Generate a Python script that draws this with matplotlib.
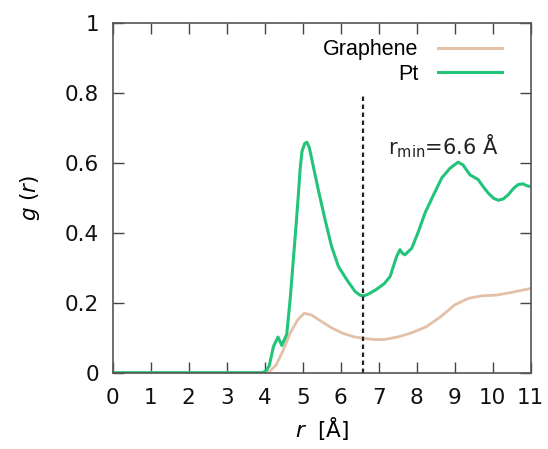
#!/usr/bin/env python3

import matplotlib
matplotlib.use("Agg")
import matplotlib.pyplot as plt

# Radial distribution functions, read at irregular r points [Å]
r_pt = [0.0, 3.95, 4.05, 4.12, 4.23, 4.35, 4.45, 4.58, 4.67, 4.81, 4.88,
        4.93, 4.98, 5.05, 5.11, 5.17, 5.24, 5.41, 5.59, 5.76, 5.94, 6.16,
        6.38, 6.52, 6.62, 6.75, 6.95, 7.15, 7.30, 7.47, 7.56, 7.62, 7.69,
        7.87, 8.05, 8.22, 8.45, 8.66, 8.88, 9.09, 9.22, 9.40, 9.62, 9.75,
        9.88, 10.02, 10.15, 10.28, 10.41, 10.55, 10.67, 10.80, 10.89, 11.0]
g_pt = [0.0, 0.0, 0.008, 0.02, 0.075, 0.102, 0.078, 0.11, 0.21, 0.40, 0.50,
        0.58, 0.632, 0.655, 0.659, 0.645, 0.61, 0.523, 0.437, 0.361, 0.304,
        0.266, 0.232, 0.221, 0.22, 0.226, 0.239, 0.255, 0.275, 0.332, 0.352,
        0.342, 0.337, 0.356, 0.405, 0.457, 0.51, 0.557, 0.585, 0.602, 0.594,
        0.566, 0.552, 0.532, 0.514, 0.499, 0.493, 0.497, 0.509, 0.527,
        0.538, 0.54, 0.535, 0.532]

r_gr = [0.0, 4.0, 4.12, 4.30, 4.49, 4.67, 4.86, 5.04, 5.23, 5.50, 5.78, 6.05,
        6.33, 6.61, 6.88, 7.16, 7.53, 7.89, 8.26, 8.63, 9.0, 9.37, 9.73,
        10.1, 10.47, 11.0]
g_gr = [0.0, 0.0, 0.003, 0.022, 0.065, 0.113, 0.15, 0.17, 0.165, 0.146,
        0.127, 0.113, 0.103, 0.098, 0.095, 0.095, 0.103, 0.115, 0.132, 0.16,
        0.194, 0.213, 0.22, 0.222, 0.229, 0.241]

r_min = 6.6
r_min_top = 0.8

x_ticks = list(range(0, 12))
y_ticks = [0, 0.2, 0.4, 0.6, 0.8, 1]
y_tick_labels = ["0", "0.2", "0.4", "0.6", "0.8", "1"]


def main():
    plt.rcParams["font.family"] = "DejaVu Sans"
    fig = plt.figure(figsize=(5.48, 4.49), dpi=100)
    ax = fig.add_axes([0.2057, 0.1699, 0.7627, 0.7789])

    ax.plot(r_gr, g_gr, color="#e3c0a8", lw=2.0, label="Graphene")
    ax.plot(r_pt, g_pt, color="#22c47a", lw=2.2, label="Pt")

    # dotted marker of the first minimum
    ax.plot([r_min, r_min], [0, r_min_top], color="#222222", lw=1.6,
            linestyle=(0, (2, 1.6)))
    ax.text(7.24, 0.648, r"r$_{\mathrm{min}}$=6.6 Å", fontsize=15,
            va="center", ha="left", color="#222222")

    ax.set_xlim(0, 11)
    ax.set_ylim(0, 1)
    ax.set_xticks(x_ticks)
    ax.set_yticks(y_ticks)
    ax.set_yticklabels(y_tick_labels)
    ax.tick_params(direction="in", length=8, width=1.0, color="#444444",
                   top=True, right=True, labelsize=15.5, labelcolor="#111111")
    ax.tick_params(axis="x", pad=11)
    ax.tick_params(axis="y", pad=10)
    for side in ax.spines.values():
        side.set_color("#555555")
        side.set_linewidth(1.2)

    ax.set_xlabel(r"$r$  [Å]", fontsize=15.5, labelpad=5)
    ax.set_ylabel(r"$g$ ($r$)", fontsize=15.5, labelpad=16)

    leg = ax.legend(loc="upper right", frameon=False,
                    prop={"family": "Liberation Sans", "size": 15.5},
                    markerfirst=False, handlelength=3.0, handletextpad=0.9,
                    borderaxespad=0.0, labelspacing=0.15,
                    bbox_to_anchor=(0.953, 0.978))
    for line in leg.get_lines():
        line.set_linewidth(2.2)

    fig.savefig("out.png", dpi=100)
    plt.close(fig)


if __name__ == "__main__":
    main()
